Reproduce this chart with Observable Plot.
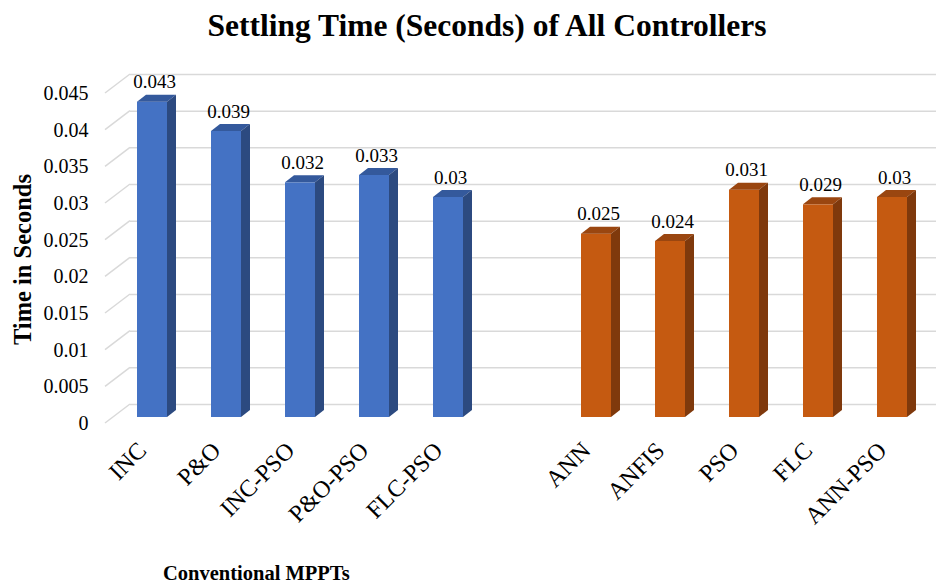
<!DOCTYPE html>
<html>
<head>
<meta charset="utf-8">
<script src="https://cdn.jsdelivr.net/npm/d3@7"></script>
<script src="https://cdn.jsdelivr.net/npm/@observablehq/plot@0.6"></script>
<style>
  body { margin: 0; background: #fff; }
  #wrap { position: relative; width: 938px; height: 583px; overflow: hidden;
          font-family: "Liberation Serif", "Times New Roman", serif; color: #000; }
  #title { position: absolute; left: 0; top: 10px; width: 974px; text-align: center;
           font-weight: bold; font-size: 31.5px; line-height: 31px; white-space: nowrap; }
  #chart { position: absolute; left: 0; top: 50px; }
  #caption { position: absolute; left: 163px; top: 563px; font-weight: bold;
             font-size: 20.5px; line-height: 20px; white-space: nowrap; }
</style>
</head>
<body>
<div id="wrap">
  <div id="title">Settling Time (Seconds) of All Controllers</div>
  <div id="chart"></div>
  <div id="caption">Conventional MPPTs</div>
</div>
<script>
// ---- data ----
const categories = ["INC", "P&O", "INC-PSO", "P&O-PSO", "FLC-PSO", "ANN", "ANFIS", "PSO", "FLC", "ANN-PSO"];
const values = [0.043, 0.039, 0.032, 0.033, 0.030, 0.025, 0.024, 0.031, 0.029, 0.030];
const valueLabels = ["0.043", "0.039", "0.032", "0.033", "0.03", "0.025", "0.024", "0.031", "0.029", "0.03"];
const groups = ["Conventional", "Conventional", "Conventional", "Conventional", "Conventional",
                "Intelligent", "Intelligent", "Intelligent", "Intelligent", "Intelligent"];
const gapSlot = " ";
const yTicks = [0, 0.005, 0.01, 0.015, 0.02, 0.025, 0.03, 0.035, 0.04, 0.045];
const yTickLabels = ["0", "0.005", "0.01", "0.015", "0.02", "0.025", "0.03", "0.035", "0.04", "0.045"];
const yTitle = "Time in Seconds";

// ---- styles ----
const groupNames = ["Conventional", "Intelligent"];
const frontColors = ["#4472c4", "#c55a11"];
const topColors = ["#34599c", "#9a4610"];
const sideColors = ["#2c4a80", "#7f390c"];
const depthX = 9, depthY = 7;
const FONT = "'Liberation Serif', 'Times New Roman', serif";

const data = categories.map((c, i) => ({cat: c, value: values[i], group: groups[i], label: valueLabels[i]}));
const xDomain = [...categories.slice(0, 5), gapSlot, ...categories.slice(5)];
const ticks = yTicks.map((t, i) => ({t, label: yTickLabels[i]}));

// slanted floor-to-back-wall segments of the gridlines
const gridSlants = (index, scales, vals, dims) => {
  const y = scales.y;
  const g = d3.create("svg:g");
  for (const t of yTicks) {
    g.append("line")
      .attr("x1", dims.marginLeft).attr("y1", y(t) + 6)
      .attr("x2", dims.marginLeft + 25).attr("y2", y(t) - 13)
      .attr("stroke", "#d9d9d9").attr("stroke-width", 1.5);
  }
  return g.node();
};

// top and side faces of the 3D columns
const faces = (index, scales) => {
  const x = scales.x, y = scales.y;
  const bw = typeof x.bandwidth === "function" ? x.bandwidth() : scales.scales.x.bandwidth;
  const g = d3.create("svg:g");
  for (const d of data) {
    const gi = groupNames.indexOf(d.group);
    const x0 = x(d.cat), x1 = x0 + bw, yt = y(d.value), yb = y(0);
    g.append("path")
      .attr("d", `M${x0},${yt}L${x0 + depthX},${yt - depthY}L${x1 + depthX},${yt - depthY}L${x1},${yt}Z`)
      .attr("fill", topColors[gi]);
    g.append("path")
      .attr("d", `M${x1},${yt}L${x1 + depthX},${yt - depthY}L${x1 + depthX},${yb - depthY}L${x1},${yb}Z`)
      .attr("fill", sideColors[gi]);
  }
  return g.node();
};

const chart = Plot.plot({
  width: 938,
  height: 505,
  marginLeft: 105,
  marginRight: 0,
  marginTop: 37,
  marginBottom: 138,
  style: {fontFamily: FONT, background: "transparent", color: "#000"},
  x: {domain: xDomain, paddingInner: 0.6, paddingOuter: 0.42, axis: null},
  y: {domain: [0, 0.045], axis: null},
  color: {domain: groupNames, range: frontColors},
  marks: [
    Plot.ruleY(yTicks, {dy: -13, insetLeft: 25, insetRight: 2, stroke: "#d9d9d9", strokeWidth: 1.5, strokeOpacity: 1}),
    gridSlants,
    Plot.barY(data, {x: "cat", y: "value", fill: "group"}),
    faces,
    Plot.text(data, {x: "cat", y: "value", text: "label", dy: -20, dx: 2, fontSize: 19, fontFamily: FONT, fill: "#000"}),
    Plot.text(ticks, {y: "t", text: "label", frameAnchor: "left", dx: -17, dy: 6, textAnchor: "end", fontSize: 20, fontFamily: FONT, fill: "#000"}),
    Plot.text(categories, {x: d => d, text: d => d, frameAnchor: "bottom", dx: -10, dy: 29, rotate: -45,
      textAnchor: "end", lineAnchor: "middle", fontSize: 24, fontFamily: FONT, fill: "#000"}),
    Plot.text([yTitle], {text: d => d, frameAnchor: "left", dx: -82, dy: 7, rotate: -90, textAnchor: "middle",
      fontSize: 24.5, fontWeight: "bold", fontFamily: FONT, fill: "#000"})
  ]
});
document.getElementById("chart").appendChild(chart);
</script>
</body>
</html>
